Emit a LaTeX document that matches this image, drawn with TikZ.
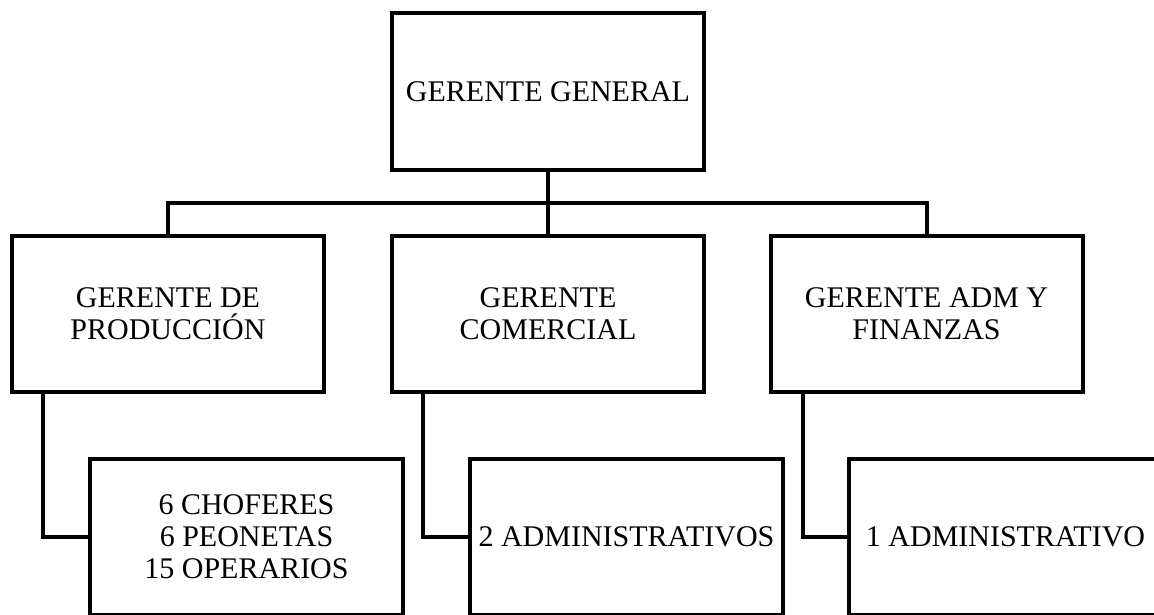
\documentclass[tikz,border=0pt]{standalone}
\usepackage{fontspec}
\setmainfont{Liberation Serif}
\begin{document}
\begin{tikzpicture}[x=1pt,y=-1pt,
  box/.style={draw,line width=4pt,minimum width=312pt,minimum height=156pt,inner sep=0pt,outer sep=0pt,align=center,
    font=\fontsize{30}{32}\selectfont,fill=white},
  link/.style={line width=4pt}]
\useasboundingbox (0,0) rectangle (1154,614);
\clip (0,0) rectangle (1154,614);
\node[box,minimum height=157pt] (gg) at (548,91.5) {GERENTE GENERAL};
\node[box] (gp) at (168,314) {GERENTE DE\\PRODUCCIÓN};
\node[box] (gc) at (548,314) {GERENTE\\COMERCIAL};
\node[box] (gf) at (926.5,314) {GERENTE ADM Y\\FINANZAS};
\node[box,minimum width=313pt] (ch) at (246.5,537) {6 CHOFERES\\6 PEONETAS\\15 OPERARIOS};
\node[box,minimum width=313pt] (ad) at (626.5,537) {2 ADMINISTRATIVOS};
\node[box,minimum width=313pt] (a1) at (1005.5,537) {1 ADMINISTRATIVO};
\coordinate (hub) at (548,203);
\draw[link] (gg.south) -- (gc.north);
\draw[link] (gp.north) |- (hub) -| (gf.north);
\draw[link] ([xshift=31pt]gp.south west) |- (ch.west);
\draw[link] ([xshift=31pt]gc.south west) |- (ad.west);
\draw[link] ([xshift=32pt]gf.south west) |- (a1.west);
\end{tikzpicture}
\end{document}
